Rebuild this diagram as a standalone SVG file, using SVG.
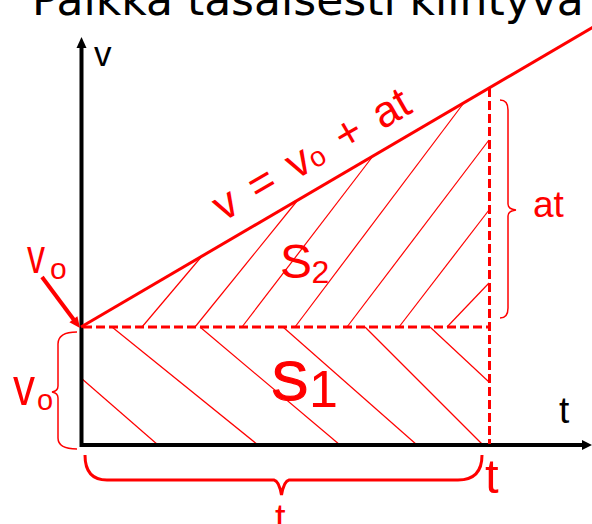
<svg xmlns="http://www.w3.org/2000/svg" width="592" height="524" viewBox="0 0 592 524">
<style>
  .red { fill: #ff0000; font-family: "Liberation Sans", Arial, sans-serif; }
  .blk { fill: #000000; font-family: "Liberation Sans", Arial, sans-serif; }
  .hatch { stroke: #ff0000; stroke-width: 1.2; fill: none; }
  .dash { stroke: #ff0000; stroke-width: 3; stroke-dasharray: 9 4; fill: none; }
  .brace { stroke: #ff0000; fill: none; }
  .axis { stroke: #000000; stroke-width: 4; fill: none; }
</style>
<rect width="592" height="524" fill="#ffffff"/>

<g id="title">
  <text x="32" y="15" font-family="'DejaVu Sans', Verdana, sans-serif" font-size="44" fill="#000000">Paikka tasaisesti kiihtyvä</text>
</g>

<g id="hatching-S1">
  <line class="hatch" x1="81" y1="378" x2="158" y2="445"/>
  <line class="hatch" x1="112" y1="327" x2="258" y2="445"/>
  <line class="hatch" x1="200" y1="327" x2="340" y2="445"/>
  <line class="hatch" x1="283" y1="327" x2="417" y2="445"/>
  <line class="hatch" x1="365" y1="327" x2="482" y2="444"/>
  <line class="hatch" x1="430" y1="327" x2="489" y2="382"/>
</g>

<g id="hatching-S2">
  <line class="hatch" x1="142" y1="327" x2="202" y2="256"/>
  <line class="hatch" x1="195" y1="327" x2="297" y2="201"/>
  <line class="hatch" x1="242" y1="327" x2="373" y2="156"/>
  <line class="hatch" x1="295" y1="327" x2="463" y2="104"/>
  <line class="hatch" x1="347" y1="327" x2="489" y2="140"/>
  <line class="hatch" x1="399" y1="327" x2="489" y2="210"/>
  <line class="hatch" x1="447" y1="327" x2="489" y2="283"/>
</g>

<g id="axes">
  <line class="axis" x1="81.5" y1="447" x2="81.5" y2="45"/>
  <polygon points="81.5,37 76.5,48 86.5,48" fill="#000000"/>
  <line class="axis" x1="80" y1="445" x2="584" y2="445"/>
  <polygon points="592,445 582,440 582,450" fill="#000000"/>
  <text class="blk" x="94" y="66" font-size="35">v</text>
  <text class="blk" x="559" y="423" font-size="37">t</text>
</g>

<g id="connectors">
  <line id="v-line" x1="81" y1="327" x2="600" y2="23" stroke="#ff0000" stroke-width="3"/>
  <line id="v0-level" class="dash" x1="83" y1="327" x2="489" y2="327"/>
  <line id="t-level" class="dash" x1="489.5" y1="88" x2="489.5" y2="444"/>
  <line id="v0-arrow" x1="42" y1="277" x2="74" y2="320" stroke="#ff0000" stroke-width="4"/>
  <polygon points="80,328 69.4,322.2 77.4,316.2" fill="#ff0000"/>
</g>

<g id="braces">
  <path class="brace" stroke-width="1.5" d="M 500 100 Q 508 100 508 110 L 508 204 Q 508 209 516 210 Q 508 211 508 216 L 508 308 Q 508 318 500 318"/>
  <path class="brace" stroke-width="1.5" d="M 77 332 Q 58 332 58 344 L 58 386 Q 58 391 52 392 Q 58 393 58 398 L 58 438 Q 58 449 77 449"/>
  <path class="brace" stroke-width="3" d="M 85 455 Q 85 480 107 480 L 274 480 Q 279 481 281.5 495 Q 284 481 289 480 L 458 480 Q 482 480 482 455"/>
</g>

<g id="labels">
  <text class="red" transform="translate(223,222) rotate(-30)" font-size="44" word-spacing="6">v = v<tspan font-size="28">o</tspan> + at</text>
  <text class="red" transform="translate(27,273) scale(1,1.34)" font-size="36">v</text>
  <text class="red" x="50" y="279" font-size="30">o</text>
  <text class="red" transform="translate(13,405) scale(1,1.23)" font-size="44">v</text>
  <text class="red" x="37" y="410" font-size="29">o</text>
  <text class="red" x="533" y="217" font-size="37">at</text>
  <text class="red" x="280" y="278" font-size="48">S</text>
  <text class="red" x="311.5" y="283" font-size="32">2</text>
  <text class="red" x="271" y="400" font-size="56" stroke="#ff0000" stroke-width="1.2">S</text>
  <text class="red" x="309" y="407" font-size="52">1</text>
  <text class="red" x="485" y="493" font-size="49">t</text>
  <text class="red" x="275" y="531" font-size="38">t</text>
</g>
</svg>
